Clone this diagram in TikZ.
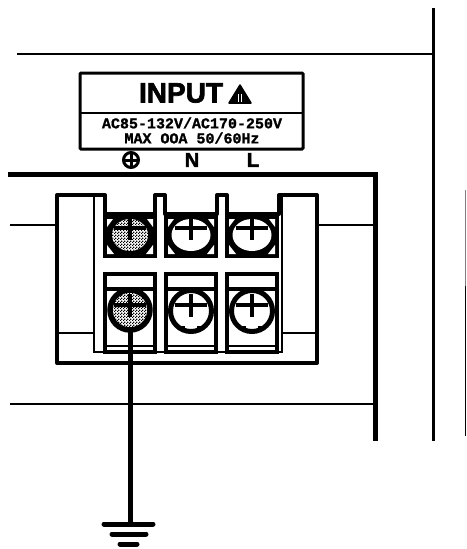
\documentclass[tikz,border=0pt]{standalone}
\usepackage{fontspec}
\setmonofont[BoldFeatures={FakeBold=1.2}]{Liberation Mono}
\setsansfont[BoldFeatures={FakeBold=2.5}]{Liberation Sans}
\usetikzlibrary{patterns}
\pgfdeclarepatternformonly{screwdots}{\pgfpointorigin}{\pgfqpoint{3pt}{3pt}}{\pgfqpoint{3pt}{3pt}}{
    \pgfpathrectangle{\pgfpointorigin}{\pgfqpoint{1.5pt}{1.5pt}}
    \pgfpathrectangle{\pgfqpoint{1.5pt}{1.5pt}}{\pgfqpoint{1.5pt}{1.5pt}}
    \pgfusepath{fill}
}
\tikzset{
    wire/.style={line width=2.5pt},
    heavy/.style={line width=4pt},
    slot/.style={line width=4.5pt},
    labeltext/.style={font=\ttfamily\bfseries\fontsize{15}{15}\selectfont, inner sep=0pt},
    marktext/.style={font=\sffamily\bfseries\fontsize{20}{20}\selectfont, inner sep=0pt},
}
\begin{document}
\begin{tikzpicture}[x=1pt, y=-1pt]
    \useasboundingbox (0, 0) rectangle (466, 549);

    % cabinet lines
    \draw[line width=3pt] (433, 8) -- (433, 441);
    \draw[wire] (17, 54) -- (433, 54);
    \draw[line width=0.8pt, black!50] (465.5, 190) -- (465.5, 286);
    \draw[line width=1.2pt] (465.5, 286) -- (465.5, 436);
    \draw[line width=5pt] (8, 174) -- (375, 174) -- (375, 441);
    \draw[wire] (10, 225) -- (57, 225);
    \draw[wire] (317, 225) -- (375, 225);
    \draw[wire] (10, 404) -- (375, 404);

    % rating plate
    \draw[line width=3pt, rounded corners=1pt] (80, 73) rectangle (303, 149);
    \draw[wire] (80, 113) -- (303, 113);
    \node[font=\sffamily\bfseries\fontsize{28}{28}\selectfont, inner sep=0pt] (inputlabel) at (181, 93) {INPUT};
    \draw[fill=black, line width=1.5pt, line join=round] (240, 85) -- (251, 103) -- (229, 103) -- cycle;
    \draw[white, line width=0.8pt] (238.5, 94) -- (238.5, 102) (241.5, 94) -- (241.5, 102);
    \node[labeltext] (ratinglabel) at (192, 123) {AC85-132V/AC170-250V};
    \node[labeltext] (maxlabel) at (192, 138) {MAX OOA 50/60Hz};

    % terminal marks
    \draw[line width=3pt] (131, 160) circle (7.5);
    \draw[line width=3pt] (123, 160) -- (139, 160) (131, 152) -- (131, 168);
    \node[marktext] (nlabel) at (192, 160) {N};
    \node[marktext] (llabel) at (253, 160) {L};

    % terminal block
    \draw[heavy, line join=round] (57, 195) -- (105, 195) -- (105, 214) -- (155, 214) -- (155, 195)
        -- (165, 195) -- (165, 214) -- (217, 214) -- (217, 195)
        -- (227, 195) -- (227, 214) -- (279, 214) -- (279, 195)
        -- (317, 195) -- (317, 363) -- (57, 363) -- cycle;
    \draw[wire] (94, 196) -- (94, 352) -- (282, 352) -- (282, 196);
    \draw[line width=2pt] (57, 333) -- (94, 333) (282, 333) -- (317, 333);

    \foreach \col in {103, 164, 225} {
    % upper row
    \fill (\col, 213) rectangle ({\col+54}, 258);
    \fill[white] (\col+4, 219) -- (\col+10, 219) -- (\col+4, 227) -- cycle;
    \fill[white] (\col+50, 219) -- (\col+44, 219) -- (\col+50, 227) -- cycle;
    \fill[white] (\col+4, 254) -- (\col+11, 254) -- (\col+4, 245) -- cycle;
    \fill[white] (\col+50, 254) -- (\col+43, 254) -- (\col+50, 245) -- cycle;
    % lower row
    \draw[heavy, fill=white] (\col+2, 274) rectangle ({\col+52}, 352);
    \draw[heavy] (\col, 289) -- ({\col+54}, 289);
    \draw[wire] (\col, 346) -- ({\col+54}, 346);
    }

    % screws
    \fill[white] (130, 235) ellipse (18 and 16);
    \fill[pattern=screwdots, pattern color=black] (130, 235) ellipse (18 and 16);
    \foreach \col in {191, 252} {
    \fill[white] (\col, 235) ellipse (19.5 and 16);
    }
    \draw[line width=5.5pt, fill=white] (130, 310) circle (20);
    \fill[pattern=screwdots, pattern color=black] (130, 310) circle (18);
    \foreach \col in {191, 252} {
    \draw[line width=5pt, fill=white] (\col, 311) circle (20.5);
    \fill (\col-11, 326) rectangle (\col-6, 331);
    \fill (\col+6, 326) rectangle (\col+11, 331);
    }
    \foreach \col in {130, 191, 252} {
    \draw[slot] (\col-16, 228) -- (\col+16, 228) (\col, 219) -- (\col, 240);
    \draw[slot] (\col-16, 305) -- (\col+16, 305) (\col, 294) -- (\col, 317);
    }

    % earth wire
    \draw[line width=5pt] (130, 330) -- (130, 524);
    \draw[line width=5pt, line cap=round] (104, 524) -- (153, 524);
    \draw[line width=5pt, line cap=round] (112, 534) -- (146, 534);
    \draw[line width=5pt, line cap=round] (120, 544) -- (137, 544);
\end{tikzpicture}
\end{document}
